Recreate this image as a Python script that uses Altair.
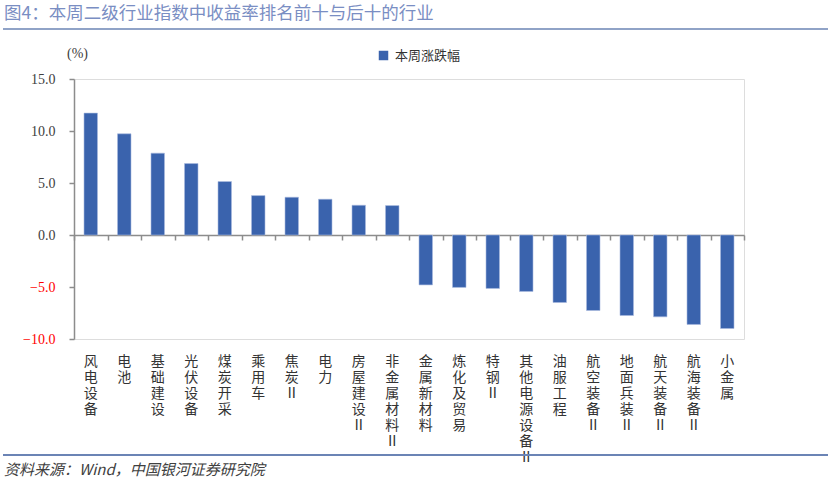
import altair as alt
import pandas as pd

categories = ["风电设备", "电池", "基础建设", "光伏设备", "煤炭开采", "乘用车", "焦炭Ⅱ", "电力",
              "房屋建设Ⅱ", "非金属材料Ⅱ", "金属新材料", "炼化及贸易", "特钢Ⅱ", "其他电源设备Ⅱ",
              "油服工程", "航空装备Ⅱ", "地面兵装Ⅱ", "航天装备Ⅱ", "航海装备Ⅱ", "小金属"]
values = [11.72, 9.73, 7.87, 6.87, 5.14, 3.79, 3.63, 3.44, 2.86, 2.83,
          -4.80, -5.04, -5.14, -5.43, -6.49, -7.26, -7.74, -7.87, -8.60, -8.99]
series_name = "本周涨跌幅"
y_ticks = [-10, -5, 0, 5, 10, 15]

df = pd.DataFrame({"cat": categories, "val": values, "series": series_name})

W, H = 670, 260
BAR = "#3a63ad"
AX = "#8c8c8c"
CJK = "Noto Sans CJK SC"

xscale = alt.Scale(domain=categories, paddingInner=0, paddingOuter=0)
yscale = alt.Scale(domain=[-10, 15], nice=False, zero=False)

bars = alt.Chart(df).mark_bar(size=13.5, stroke="#a9bbdf", strokeWidth=0.6).encode(
    x=alt.X("cat:N", sort=categories, scale=xscale,
            axis=alt.Axis(orient="bottom", offset=-104, labels=False, title=None,
                          domainColor=AX, domainWidth=1.5, tickColor=AX, tickWidth=1.5,
                          tickSize=5, tickBand="extent", grid=False)),
    y=alt.Y("val:Q", scale=yscale,
            axis=alt.Axis(values=y_ticks, format=".1f", grid=False,
                          domainColor=AX, domainWidth=1.5, tickColor=AX, tickWidth=1.5, tickSize=5,
                          labelFont="Liberation Serif", labelFontSize=14, labelPadding=14,
                          labelColor={"expr": "datum.value < 0 ? '#ff0000' : '#404040'"},
                          title="(%)", titleAngle=0, titleX=3, titleY=-26,
                          titleAlign="center", titleBaseline="middle",
                          titleFont="Liberation Serif", titleFontSize=14, titleFontWeight="normal",
                          titleColor="#404040")),
    color=alt.Color("series:N", scale=alt.Scale(range=[BAR]),
                    legend=alt.Legend(orient="none", legendX=303, legendY=-30, title=None,
                                      symbolType="square", symbolSize=90, symbolStrokeWidth=0,
                                      labelFont=CJK, labelFontSize=13, labelColor="#333333",
                                      labelOffset=5, padding=0)),
)

labels_layer = alt.Chart(df).mark_bar(opacity=0).encode(
    x=alt.X("cat:N", sort=categories, scale=xscale,
            axis=alt.Axis(orient="bottom", domain=False, ticks=False, title=None, grid=False,
                          labelAngle=0, labelAlign="center", labelBaseline="top",
                          labelExpr="split(datum.label, '')", labelLineHeight=16,
                          labelFont=CJK, labelFontSize=14, labelColor="#333333",
                          labelPadding=15, labelOverlap=False, labelLimit=0)),
    y=alt.Y("val:Q", scale=yscale),
)

title_text = alt.Chart(pd.DataFrame({"t": ["图4：本周二级行业指数中收益率排名前十与后十的行业"]})).mark_text(
    align="left", baseline="middle", font=CJK, fontSize=17.5, color="#7a8ec3"
).encode(x=alt.value(-70), y=alt.value(-65), text="t:N")

top_rule = alt.Chart(pd.DataFrame({"a": [0]})).mark_rule(color="#6b84b5", strokeWidth=1.5).encode(
    x=alt.value(-71), x2=alt.value(754), y=alt.value(-50))

bottom_rule = alt.Chart(pd.DataFrame({"a": [0]})).mark_rule(color="#6b84b5", strokeWidth=2).encode(
    x=alt.value(-71), x2=alt.value(754), y=alt.value(376))

footer = alt.Chart(pd.DataFrame({"t": ["资料来源：Wind，中国银河证券研究院"]})).mark_text(
    align="left", baseline="middle", font=CJK, fontSize=15, fontStyle="italic", color="#404040"
).encode(x=alt.value(-70), y=alt.value(391), text="t:N")

chart = alt.layer(bars, labels_layer, title_text, top_rule, bottom_rule, footer).resolve_axis(
    x="independent"
).properties(
    width=W, height=H,
    autosize=alt.AutoSizeParams(type="none"),
    padding={"left": 74, "top": 79, "right": 88, "bottom": 144},
).configure_view(stroke=None).configure(background="white")

chart.save("out.html", embed_options={"renderer": "svg", "actions": False})
